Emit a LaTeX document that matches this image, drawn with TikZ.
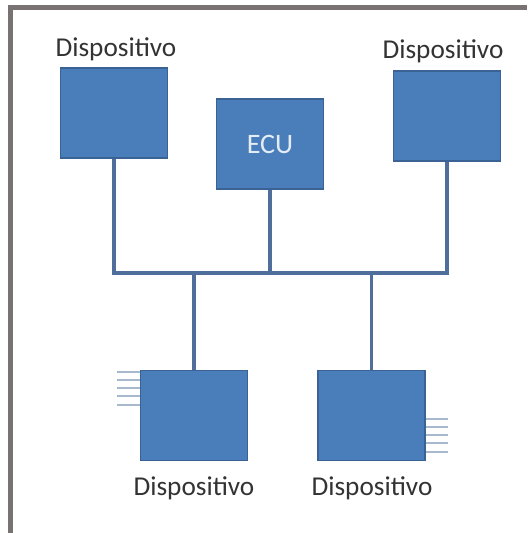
\documentclass[tikz,border=0pt]{standalone}
\usepackage{fontspec}
\setmainfont{Carlito}
\usepackage{tikz}
\usetikzlibrary{calc, positioning}

\definecolor{riempiblu}{HTML}{4A7EBB}
\definecolor{bordoblu}{HTML}{3A6294}
\definecolor{lineablu}{HTML}{4F6E9C}
\definecolor{stubgrigio}{HTML}{A9B9CD}
\definecolor{cornice}{HTML}{787272}
\definecolor{testo}{HTML}{333333}

\tikzset{
    dispbox/.style={draw=bordoblu, fill=riempiblu, line width=0.8pt, inner sep=0pt,
        minimum width=2.14cm, minimum height=1.8cm},
    etichetta/.style={text=testo, font=\fontsize{15.5}{18}\selectfont, inner sep=0pt},
    conn/.style={draw=lineablu, line width=2.2pt},
    stub/.style={draw=stubgrigio, line width=1.2pt}
}

\begin{document}
\begin{tikzpicture}[x=0.02cm, y=-0.02cm]
    \useasboundingbox (0,0) rectangle (527,533);

    % cornice
    \draw[cornice, line width=3pt] (10.5,533) -- (10.5,7.5) -- (527,7.5);

    % dispositivi e centralina
    \node[dispbox] (tl) at (114,113) {};
    \node[dispbox] (ecu) at (270,144) {};
    \node[text=white!85!riempiblu, font=\fontsize{16}{19}\selectfont] (ecutxt) at (ecu.center) {ECU};
    \node[dispbox] (tr) at (447,116) {};
    \node[dispbox] (bl) at (194,415.5) {};
    \node[dispbox] (br) at (371.5,415.5) {};

    % etichette
    \node[etichetta] (ltl) at (116,49) {Dispositivo};
    \node[etichetta] (ltr) at (443,51) {Dispositivo};
    \node[etichetta] (lbl) at (194,488) {Dispositivo};
    \node[etichetta] (lbr) at (372,488) {Dispositivo};

    % bus
    \coordinate (bus) at (0,273);
    \draw[conn] (tl.south) -- (tl.south |- bus) -- (tr.south |- bus) -- (tr.south);
    \draw[conn] (ecu.south) -- (ecu.south |- bus);
    \draw[conn] (bl.north) -- (bl.north |- bus);
    \draw[conn] (br.north) -- (br.north |- bus);

    % piedini laterali
    \foreach \k in {0,...,4} {
        \draw[stub] (bl.north west) ++(0,2+8.2*\k) -- ++(-23,0);
        \draw[stub] (br.north east) ++(0,49+8.2*\k) -- ++(22,0);
    }
\end{tikzpicture}
\end{document}
